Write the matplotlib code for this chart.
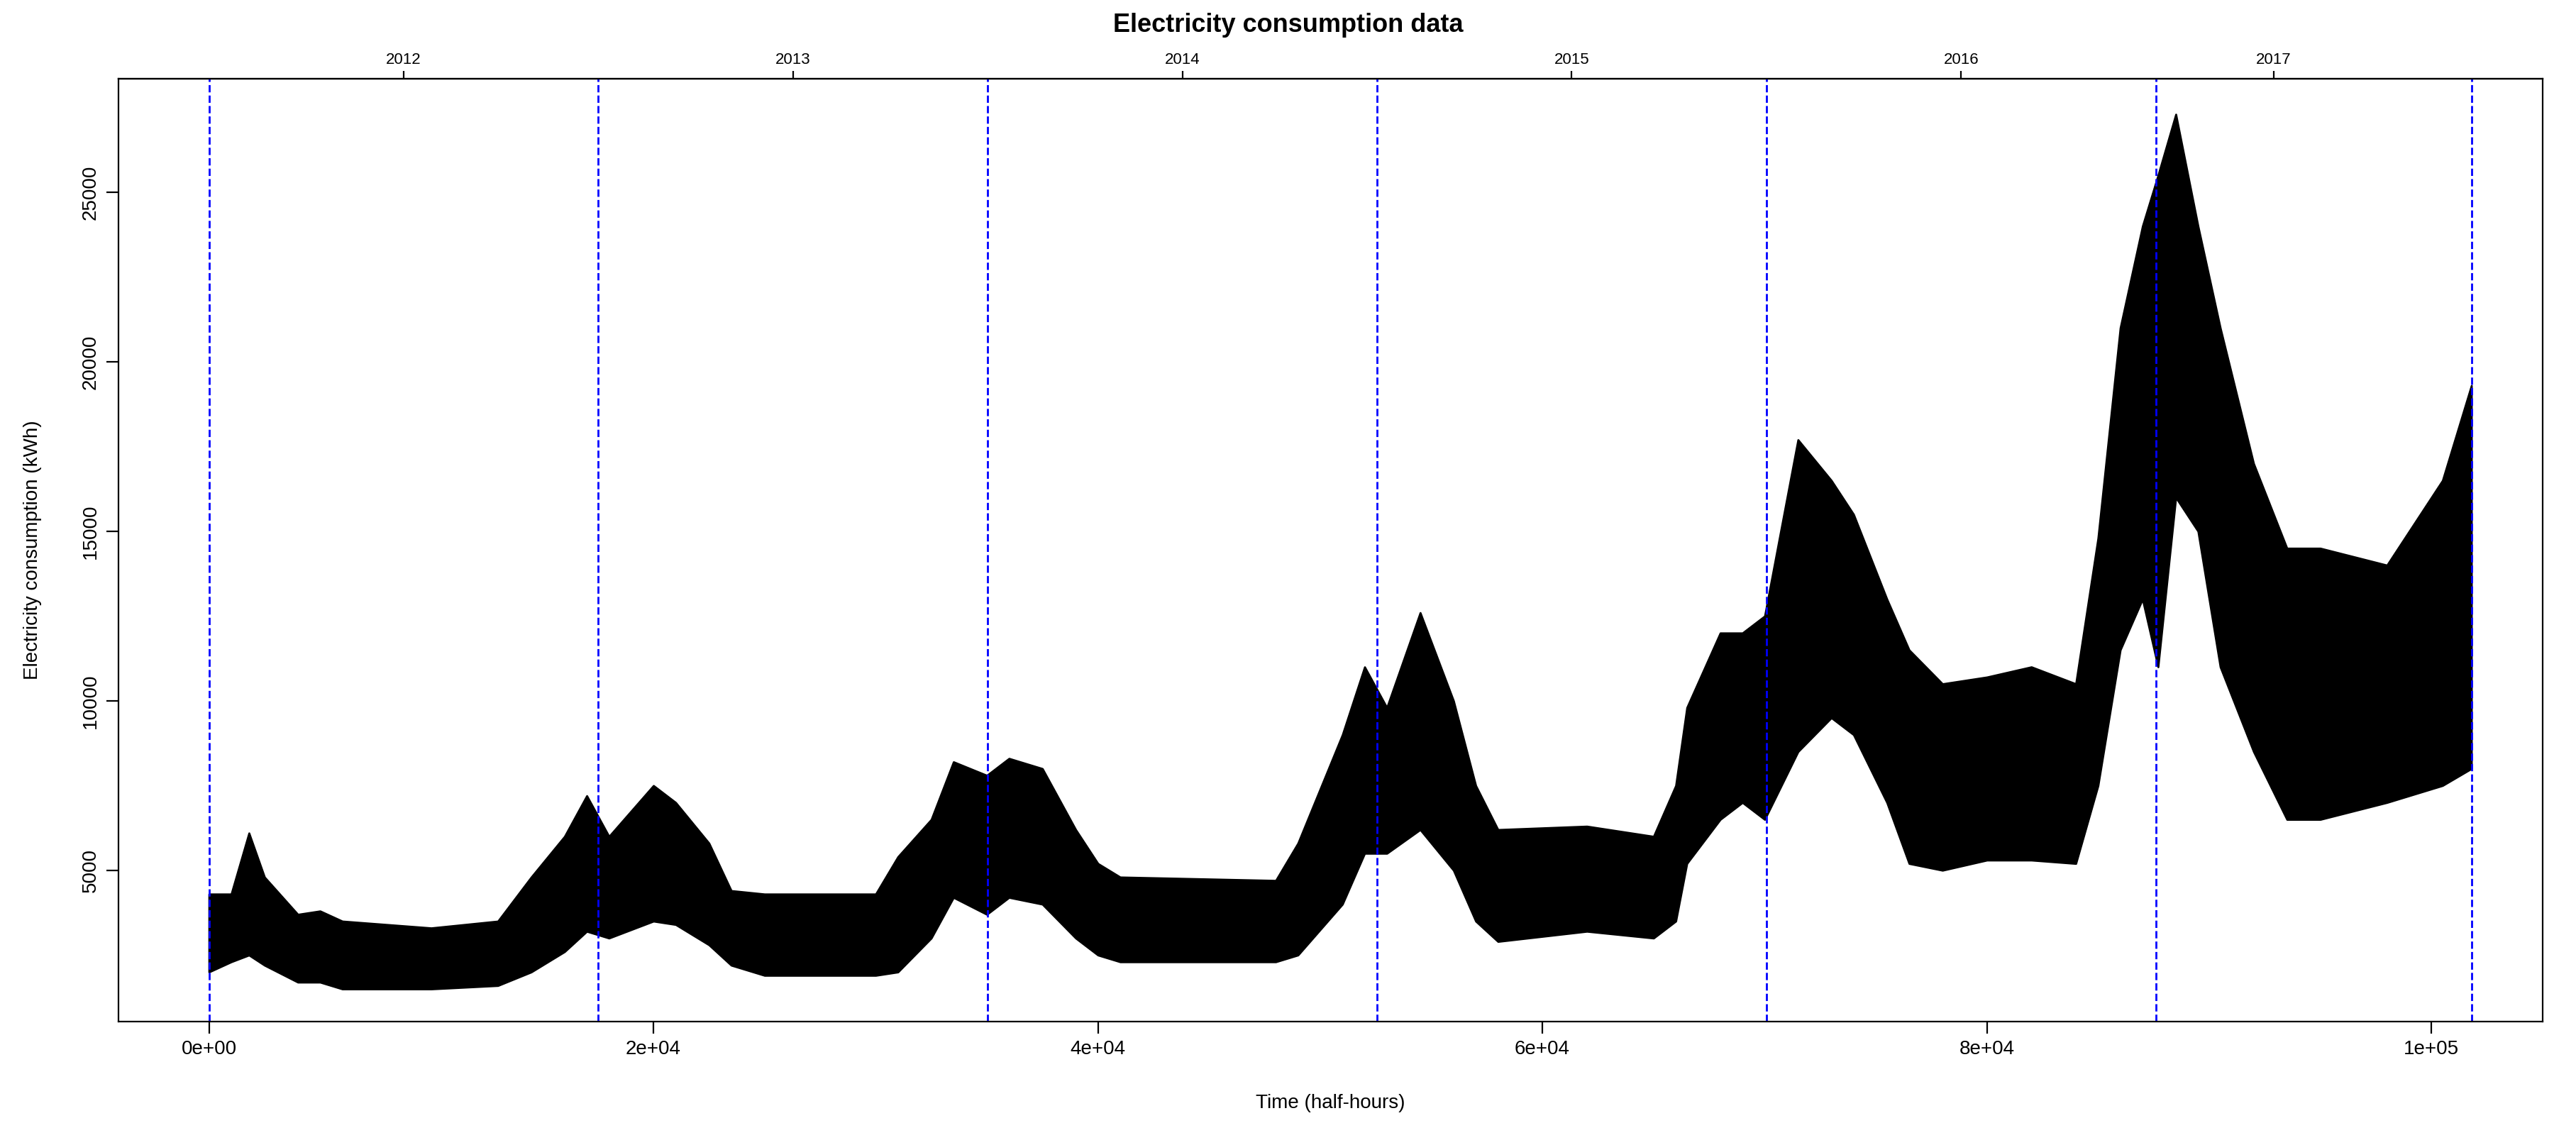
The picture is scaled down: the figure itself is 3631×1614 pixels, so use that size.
import matplotlib
matplotlib.use("Agg")
import matplotlib.pyplot as plt

plt.rcParams['font.family'] = ['Liberation Sans', 'DejaVu Sans']

# envelope of the half-hourly series
x_pts = [0, 1000, 1800, 2500, 4000, 5000, 6000, 10000, 13000, 14500, 16000, 17000,
         18000, 20000, 21000, 22500, 23500, 25000, 30000, 31000, 32500, 33500, 35000,
         36000, 37500, 39000, 40000, 41000, 48000, 49000, 51000, 52000, 53000, 54500,
         56000, 57000, 58000, 62000, 65000, 66000, 66500, 68000, 69000, 70000, 71500,
         73000, 74000, 75500, 76500, 78000, 80000, 82000, 84000, 85000, 86000, 87000,
         87700, 88500, 89500, 90500, 92000, 93500, 95000, 98000, 100500, 101800]
upper = [4300, 4300, 6100, 4800, 3700, 3800, 3500, 3300, 3500, 4800, 6000, 7200,
         6000, 7500, 7000, 5800, 4400, 4300, 4300, 5400, 6500, 8200, 7800,
         8300, 8000, 6200, 5200, 4800, 4700, 5800, 9000, 11000, 9800, 12600,
         10000, 7500, 6200, 6300, 6000, 7500, 9800, 12000, 12000, 12500, 17700,
         16500, 15500, 13000, 11500, 10500, 10700, 11000, 10500, 14800, 21000, 24000,
         25500, 27300, 24000, 21000, 17000, 14500, 14500, 14000, 16500, 19300]
lower = [2000, 2300, 2500, 2200, 1700, 1700, 1500, 1500, 1600, 2000, 2600, 3200,
         3000, 3500, 3400, 2800, 2200, 1900, 1900, 2000, 3000, 4200, 3700,
         4200, 4000, 3000, 2500, 2300, 2300, 2500, 4000, 5500, 5500, 6200,
         5000, 3500, 2900, 3200, 3000, 3500, 5200, 6500, 7000, 6500, 8500,
         9500, 9000, 7000, 5200, 5000, 5300, 5300, 5200, 7500, 11500, 13000,
         11000, 16000, 15000, 11000, 8500, 6500, 6500, 7000, 7500, 8000]

year_breaks = [0, 17520, 35040, 52560, 70080, 87600, 101800]
year_pos = [8760, 26280, 43800, 61320, 78840, 92900]
year_labels = ['2012', '2013', '2014', '2015', '2016', '2017']

fig = plt.figure(figsize=(18.155, 8.07), dpi=200)
ax = fig.add_axes([0.046, 0.108, 0.941, 0.823])
ax.fill_between(x_pts, lower, upper, color='black', linewidth=1)
for b in year_breaks:
    ax.axvline(b, color='blue', linestyle='--', linewidth=1)

ax.set_xlim(-4070, 105000)
ax.set_ylim(545, 28340)
ax.set_xticks([0, 20000, 40000, 60000, 80000, 100000])
ax.set_xticklabels(['0e+00', '2e+04', '4e+04', '6e+04', '8e+04', '1e+05'])
ax.set_yticks([5000, 10000, 15000, 20000, 25000])
ax.set_yticklabels(['5000', '10000', '15000', '20000', '25000'], rotation=90, va='center')
ax.tick_params(labelsize=10, length=6)
ax.set_xlabel('Time (half-hours)', fontsize=10, labelpad=18)
ax.set_ylabel('Electricity consumption (kWh)', fontsize=10, labelpad=20)

top = ax.secondary_xaxis('top')
top.set_xticks(year_pos)
top.set_xticklabels(year_labels)
top.tick_params(labelsize=8, length=4, pad=2)
fig.text(0.5, 0.978, 'Electricity consumption data', fontsize=13, fontweight='bold',
         ha='center', va='center')

fig.savefig('out.png', dpi=200)
